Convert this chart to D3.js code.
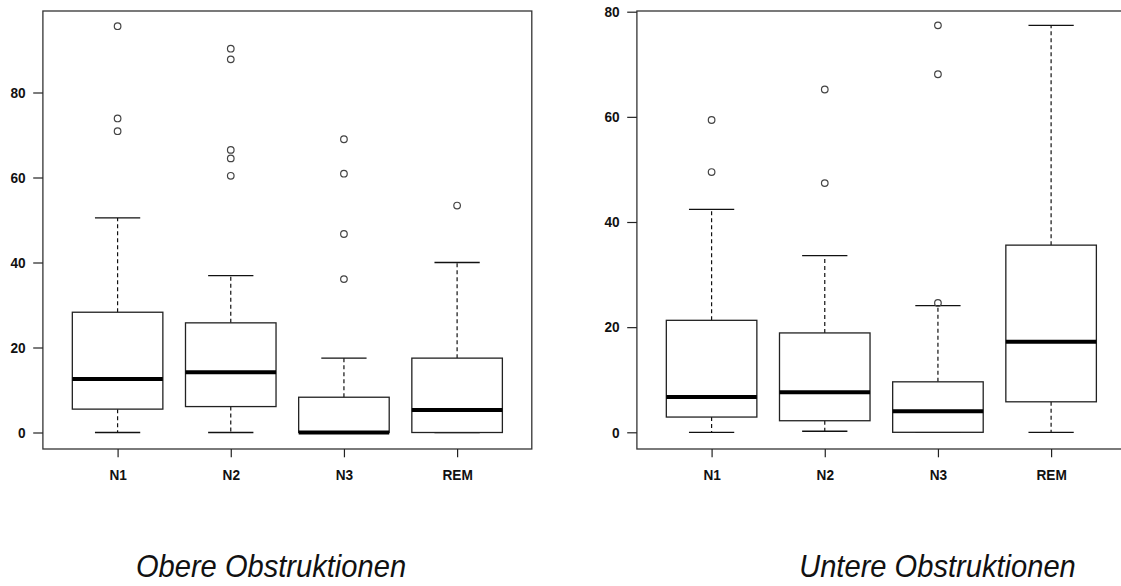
<!DOCTYPE html>
<html>
<head>
<meta charset="utf-8">
<script src="https://cdn.jsdelivr.net/npm/d3@7"></script>
<style>
  html, body { margin: 0; padding: 0; background: #fff; }
  svg { display: block; }
  text { font-family: "Liberation Sans", Arial, Helvetica, sans-serif; }
</style>
</head>
<body>
<svg id="chart" width="1121" height="586"></svg>
<script>
// Sleep stages on the x axis
const categories = ["N1", "N2", "N3", "REM"];
const yTicksUpper = [0, 20, 40, 60, 80];
const yTicksLower = [0, 20, 40, 60, 80];

// Box statistics: upper obstructions
const upperWhiskerLow = [0, 0, 0, 0];
const upperQ1 = [5.5, 6.1, 0, 0];
const upperMedian = [12.6, 14.2, 0, 5.3];
const upperQ3 = [28.3, 25.8, 8.3, 17.5];
const upperWhiskerHigh = [50.5, 36.9, 17.5, 40.0];
const upperOutliers = [
  [95.6, 73.9, 70.9],
  [90.3, 87.8, 66.5, 64.5, 60.4],
  [69.0, 60.9, 46.7, 36.1],
  [53.4]
];

// Box statistics: lower obstructions
const lowerWhiskerLow = [0, 0.2, 0, 0];
const lowerQ1 = [2.9, 2.2, 0, 5.8];
const lowerMedian = [6.7, 7.6, 4.0, 17.2];
const lowerQ3 = [21.3, 18.9, 9.6, 35.6];
const lowerWhiskerHigh = [42.4, 33.6, 24.1, 77.4];
const lowerOutliers = [
  [59.4, 49.5],
  [65.2, 47.4],
  [77.4, 68.1, 24.6],
  []
];

const titles = ["Obere Obstruktionen", "Untere Obstruktionen"];

const svg = d3.select("#chart");
const squeeze = 0.91; // horizontal text compression

function squeezeText(sel) {
  sel.each(function () {
    const x = +this.getAttribute("x") || 0;
    d3.select(this).attr("transform",
      `translate(${x},0) scale(${squeeze},1) translate(${-x},0)`);
  });
}

function buildRows(lo, q1, med, q3, hi, out) {
  return categories.map((c, i) => ({
    cat: c, idx: i + 1, lo: lo[i], q1: q1[i], med: med[i], q3: q3[i], hi: hi[i], out: out[i]
  }));
}

function drawPanel(cfg) {
  const { left, top, bottom, y0px, y80px, rows, ticks } = cfg;
  const spanPx = 488.9;
  const x = d3.scaleLinear().domain([0.34, 4.66]).range([left, left + spanPx]);
  const y = d3.scaleLinear().domain([0, 80]).range([y0px, y80px]);
  const boxW = x(0.8) - x(0);
  const capW = boxW / 2;

  const g = svg.append("g");

  // whiskers
  const wk = g.selectAll("g.wk").data(rows).join("g").attr("class", "wk");
  wk.append("line")
    .attr("x1", d => x(d.idx)).attr("x2", d => x(d.idx))
    .attr("y1", d => y(d.q3)).attr("y2", d => y(d.hi))
    .attr("stroke", "#111").attr("stroke-width", 1.2).attr("stroke-dasharray", "4,3");
  wk.append("line")
    .attr("x1", d => x(d.idx)).attr("x2", d => x(d.idx))
    .attr("y1", d => y(d.q1)).attr("y2", d => y(d.lo))
    .attr("stroke", "#111").attr("stroke-width", 1.2).attr("stroke-dasharray", "4,3");
  wk.append("line")
    .attr("x1", d => x(d.idx) - capW / 2).attr("x2", d => x(d.idx) + capW / 2)
    .attr("y1", d => y(d.hi)).attr("y2", d => y(d.hi))
    .attr("stroke", "#111").attr("stroke-width", 1.3);
  wk.append("line")
    .attr("x1", d => x(d.idx) - capW / 2).attr("x2", d => x(d.idx) + capW / 2)
    .attr("y1", d => y(d.lo)).attr("y2", d => y(d.lo))
    .attr("stroke", "#111").attr("stroke-width", 1.3);

  // boxes
  g.selectAll("rect.box").data(rows).join("rect").attr("class", "box")
    .attr("x", d => x(d.idx) - boxW / 2).attr("width", boxW)
    .attr("y", d => y(d.q3)).attr("height", d => y(d.q1) - y(d.q3))
    .attr("fill", "#fff").attr("stroke", "#222").attr("stroke-width", 1.3);

  // medians
  g.selectAll("line.med").data(rows).join("line").attr("class", "med")
    .attr("x1", d => x(d.idx) - boxW / 2).attr("x2", d => x(d.idx) + boxW / 2)
    .attr("y1", d => y(d.med)).attr("y2", d => y(d.med))
    .attr("stroke", "#000").attr("stroke-width", 4);

  // outliers
  const pts = rows.flatMap(d => d.out.map(v => ({ idx: d.idx, v })));
  g.selectAll("circle.out").data(pts).join("circle").attr("class", "out")
    .attr("cx", d => x(d.idx)).attr("cy", d => y(d.v)).attr("r", 3.3)
    .attr("fill", "none").attr("stroke", "#444").attr("stroke-width", 1.2);

  // frame
  g.append("rect")
    .attr("x", left).attr("y", top)
    .attr("width", spanPx).attr("height", bottom - top)
    .attr("fill", "none").attr("stroke", "#333").attr("stroke-width", 1.3);

  // y axis
  const ya = g.append("g").attr("transform", `translate(${left},0)`)
    .call(d3.axisLeft(y).tickValues(ticks).tickSize(9.7).tickPadding(7.5).tickFormat(d3.format("d")));
  ya.select(".domain").remove();
  ya.selectAll(".tick line").attr("stroke", "#222").attr("stroke-width", 1.2);
  ya.selectAll("text").attr("font-size", 15).attr("font-weight", "bold").attr("fill", "#111")
    .call(squeezeText);

  // x axis
  const xa = g.append("g").attr("transform", `translate(0,${bottom})`)
    .call(d3.axisBottom(x).tickValues(rows.map(d => d.idx)).tickSize(8.3).tickPadding(12)
      .tickFormat(i => categories[i - 1]));
  xa.select(".domain").remove();
  xa.selectAll(".tick line").attr("stroke", "#222").attr("stroke-width", 1.2);
  xa.selectAll("text").attr("font-size", 15).attr("font-weight", "bold").attr("fill", "#111")
    .call(squeezeText);
}

drawPanel({
  left: 42.9, top: 11, bottom: 449, y0px: 432.5, y80px: 92.5,
  rows: buildRows(upperWhiskerLow, upperQ1, upperMedian, upperQ3, upperWhiskerHigh, upperOutliers),
  ticks: yTicksUpper
});

drawPanel({
  left: 636.9, top: 11, bottom: 449, y0px: 432.3, y80px: 11.7,
  rows: buildRows(lowerWhiskerLow, lowerQ1, lowerMedian, lowerQ3, lowerWhiskerHigh, lowerOutliers),
  ticks: yTicksLower
});

// panel captions
const captionX = [271, 937.5];
svg.selectAll("text.caption").data(titles).join("text").attr("class", "caption")
  .attr("x", (d, i) => captionX[i]).attr("y", 577)
  .attr("text-anchor", "middle").attr("font-size", 32).attr("font-style", "italic")
  .attr("fill", "#111").text(d => d)
  .call(squeezeText);
</script>
</body>
</html>
